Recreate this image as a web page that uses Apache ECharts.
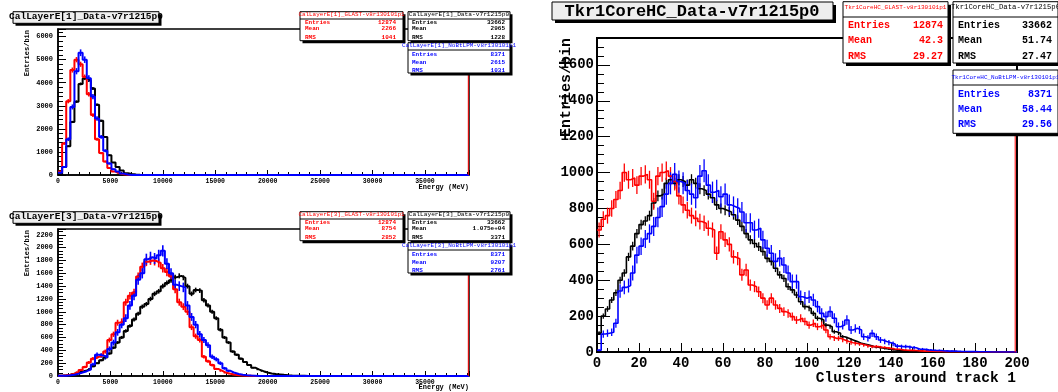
<!DOCTYPE html>
<html>
<head>
<meta charset="utf-8">
<script src="https://cdn.jsdelivr.net/npm/echarts@6/dist/echarts.min.js"></script>
<style>
  html, body { margin: 0; padding: 0; background: #fff; }
  #c { width: 1058px; height: 392px; }
</style>
</head>
<body>
<div id="c"></div>
<script>
// Histogram binning: 100 bins per histogram
const E_BIN = 392;   // MeV per bin (0 .. 39200 MeV)
const C_BIN = 2;     // clusters per bin (0 .. 200)
const E_MAX = 39200;
const C_MAX = 200;

// CalLayerE[1] (entries per 392 MeV bin)
const cal1Data = [
  30, 350, 1250, 2300, 3180, 3950, 4180, 4100, 3750, 3050,
  2350, 1650, 860, 540, 350, 190, 80, 40, 20, 10,
  5, 0, 0, 0, 0, 0, 0, 0, 0, 0,
  0, 0, 0, 0, 0, 0, 0, 0, 0, 0,
  0, 0, 0, 0, 0, 0, 0, 0, 0, 0,
  0, 0, 0, 0, 0, 0, 0, 0, 0, 0,
  0, 0, 0, 0, 0, 0, 0, 0, 0, 0,
  0, 0, 0, 0, 0, 0, 0, 0, 0, 0,
  0, 0, 0, 0, 0, 0, 0, 0, 0, 0,
  0, 0, 0, 0, 0, 0, 0, 0, 0, 0
];
const cal1Glast = [
  150, 1370, 3200, 4550, 5000, 4800, 4250, 3500, 2600, 1550,
  950, 580, 300, 150, 70, 30, 10, 0, 0, 0,
  0, 0, 0, 0, 0, 0, 0, 0, 0, 0,
  0, 0, 0, 0, 0, 0, 0, 0, 0, 0,
  0, 0, 0, 0, 0, 0, 0, 0, 0, 0,
  0, 0, 0, 0, 0, 0, 0, 0, 0, 0,
  0, 0, 0, 0, 0, 0, 0, 0, 0, 0,
  0, 0, 0, 0, 0, 0, 0, 0, 0, 0,
  0, 0, 0, 0, 0, 0, 0, 0, 0, 0,
  0, 0, 0, 0, 0, 0, 0, 0, 0, 0
];
const cal1NoBt = [
  100, 350, 1550, 2950, 4500, 5300, 5000, 4200, 3400, 2450,
  1650, 1050, 500, 250, 150, 60, 20, 0, 0, 0,
  0, 0, 0, 0, 0, 0, 0, 0, 0, 0,
  0, 0, 0, 0, 0, 0, 0, 0, 0, 0,
  0, 0, 0, 0, 0, 0, 0, 0, 0, 0,
  0, 0, 0, 0, 0, 0, 0, 0, 0, 0,
  0, 0, 0, 0, 0, 0, 0, 0, 0, 0,
  0, 0, 0, 0, 0, 0, 0, 0, 0, 0,
  0, 0, 0, 0, 0, 0, 0, 0, 0, 0,
  0, 0, 0, 0, 0, 0, 0, 0, 0, 0
];

// CalLayerE[3] (entries per 392 MeV bin)
const cal3Data = [
  5, 10, 20, 35, 50, 65, 85, 110, 150, 200,
  245, 290, 350, 440, 520, 600, 700, 780, 880, 970,
  1080, 1120, 1200, 1280, 1320, 1400, 1450, 1490, 1540, 1560,
  1530, 1400, 1280, 1340, 1330, 1180, 1100, 1000, 900, 720,
  600, 520, 380, 330, 270, 220, 170, 130, 100, 75,
  55, 40, 30, 25, 18, 12, 8, 5, 3, 2,
  0, 0, 0, 0, 0, 0, 0, 0, 0, 0,
  0, 0, 0, 0, 0, 0, 0, 0, 0, 0,
  0, 0, 0, 0, 0, 0, 0, 0, 0, 0,
  0, 0, 0, 0, 0, 0, 0, 0, 0, 0
];
const cal3Glast = [
  5, 10, 20, 35, 60, 95, 140, 210, 270, 300,
  320, 380, 560, 650, 830, 850, 1150, 1250, 1300, 1550,
  1700, 1780, 1800, 1790, 1760, 1680, 1620, 1550, 1350, 1150,
  1080, 1000, 760, 620, 560, 300, 230, 170, 110, 80,
  50, 35, 20, 12, 8, 5, 3, 0, 0, 0,
  0, 0, 0, 0, 0, 0, 0, 0, 0, 0,
  0, 0, 0, 0, 0, 0, 0, 0, 0, 0,
  0, 0, 0, 0, 0, 0, 0, 0, 0, 0,
  0, 0, 0, 0, 0, 0, 0, 0, 0, 0,
  0, 0, 0, 0, 0, 0, 0, 0, 0, 0
];
const cal3NoBt = [
  3, 5, 10, 20, 35, 55, 75, 100, 180, 330,
  320, 290, 420, 520, 680, 800, 900, 1100, 1250, 1500,
  1600, 1820, 1850, 1830, 1880, 1950, 1750, 1600, 1420, 1400,
  1380, 1100, 920, 800, 650, 560, 480, 300, 260, 200,
  120, 80, 50, 30, 20, 12, 8, 5, 0, 0,
  0, 0, 0, 0, 0, 0, 0, 0, 0, 0,
  0, 0, 0, 0, 0, 0, 0, 0, 0, 0,
  0, 0, 0, 0, 0, 0, 0, 0, 0, 0,
  0, 0, 0, 0, 0, 0, 0, 0, 0, 0,
  0, 0, 0, 0, 0, 0, 0, 0, 0, 0
];

// Tkr1CoreHC (entries per 2-cluster bin)
const tkrData = [
  105, 200, 240, 290, 330, 400, 440, 530, 590, 660,
  710, 730, 760, 830, 870, 880, 940, 960, 940, 960,
  950, 930, 960, 940, 910, 900, 880, 860, 820, 800,
  790, 780, 765, 735, 700, 660, 625, 605, 587, 560,
  522, 505, 467, 430, 410, 364, 346, 318, 280, 253,
  243, 215, 188, 178, 150, 141, 113, 104, 85, 76,
  67, 58, 48, 43, 37, 30, 26, 22, 18, 15,
  12, 10, 8, 7, 6, 5, 4, 3, 3, 2,
  2, 1, 1, 1, 1, 0, 0, 0, 0, 0,
  0, 0, 0, 0, 0, 0, 0, 0, 0, 0
];
const tkrGlast = [
  680, 740, 760, 800, 850, 900, 1000, 960, 970, 930,
  980, 990, 960, 840, 980, 1000, 1010, 980, 950, 870,
  820, 790, 760, 745, 727, 717, 690, 680, 550, 670,
  625, 600, 530, 520, 430, 457, 373, 364, 336, 300,
  262, 300, 262, 243, 225, 215, 197, 178, 188, 170,
  150, 160, 141, 150, 123, 85, 76, 76, 67, 58,
  52, 48, 45, 39, 33, 30, 30, 26, 24, 20,
  17, 15, 12, 10, 9, 8, 6, 5, 5, 4,
  3, 3, 2, 2, 2, 1, 1, 1, 1, 0,
  0, 0, 0, 0, 0, 0, 0, 0, 0, 0
];
const tkrNoBt = [
  10, 100, 105, 110, 160, 340, 360, 370, 440, 540,
  590, 630, 660, 700, 750, 810, 880, 940, 990, 950,
  940, 900, 880, 860, 980, 1010, 930, 890, 900, 865,
  880, 820, 810, 800, 780, 720, 720, 680, 690, 625,
  578, 550, 505, 522, 485, 440, 392, 392, 308, 300,
  308, 290, 253, 215, 197, 225, 188, 141, 150, 178,
  123, 132, 123, 85, 76, 104, 85, 67, 58, 52,
  45, 33, 30, 30, 26, 24, 15, 15, 12, 10,
  8, 8, 6, 5, 5, 4, 3, 3, 2, 2,
  1, 1, 1, 0, 0, 0, 0, 0, 0, 0
];

// Statistics box contents
const statLabels = ['Entries', 'Mean', 'RMS'];
const cal1DataStats  = ['33662', '2965', '1228'];
const cal1GlastStats = ['12874', '2266', '1041'];
const cal1NoBtStats  = ['8371', '2615', '1031'];
const cal3DataStats  = ['33662', '1.075e+04', '3371'];
const cal3GlastStats = ['12874', '8754', '2852'];
const cal3NoBtStats  = ['8371', '9207', '2761'];
const tkrDataStats   = ['33662', '51.74', '27.47'];
const tkrGlastStats  = ['12874', '42.3', '29.27'];
const tkrNoBtStats   = ['8371', '58.44', '29.56'];

const FONT = '"Liberation Mono", "DejaVu Sans Mono", monospace';
const RED = '#ff0000', BLUE = '#0000ff', BLACK = '#000000';

// Step outline of a histogram: one point per low bin edge plus the upper edge
function stepData(vals, w) {
  const d = vals.map((v, i) => [i * w, v]);
  d.push([vals.length * w, vals[vals.length - 1]]);
  return d;
}
// Bin centres with statistical error of the (scaled) contents
function errData(vals, w, entries) {
  const scale = 33662 / entries;
  return vals.map((v, i) => [(i + 0.5) * w, v, Math.sqrt(v * scale)]).filter(d => d[1] > 0);
}

function histSeries(g, vals, w, color, entries, lw) {
  return [
    {
      type: 'line', xAxisIndex: g, yAxisIndex: g, data: stepData(vals, w),
      step: 'end', symbol: 'none', silent: true, clip: true, animation: false,
      lineStyle: { color: color, width: lw }
    },
    {
      type: 'custom', xAxisIndex: g, yAxisIndex: g, data: errData(vals, w, entries),
      silent: true, clip: true, animation: false, encode: { x: 0, y: 1 },
      renderItem: function (params, api) {
        const x = api.value(0), v = api.value(1), e = api.value(2);
        const p1 = api.coord([x, v - e]);
        const p2 = api.coord([x, v + e]);
        return {
          type: 'line',
          shape: { x1: p1[0], y1: p1[1], x2: p2[0], y2: p2[1] },
          style: { stroke: color, lineWidth: lw * 0.8 }
        };
      }
    }
  ];
}

function axisCfg(g, max, interval, o) {
  return {
    gridIndex: g, type: 'value', min: 0, max: max, interval: interval,
    axisLine: { show: true, onZero: false, lineStyle: { color: '#000', width: o.lw } },
    axisTick: { show: true, inside: true, length: o.tick, lineStyle: { color: '#000', width: 1 } },
    minorTick: { show: true, splitNumber: o.minor, length: o.minorLen, lineStyle: { color: '#000', width: 1 } },
    axisLabel: {
      fontSize: o.fs, fontWeight: 'bold', fontFamily: FONT, color: '#000', margin: o.margin,
      showMaxLabel: !!o.showMax, formatter: v => String(v)
    },
    splitLine: { show: false }, minorSplitLine: { show: false }
  };
}

// Shadowed pave (ROOT style box)
function pave(x, y, w, h, s, fill) {
  return [
    { type: 'rect', z: 100, shape: { x: x + s, y: y + s, width: w, height: h }, style: { fill: '#000' }, silent: true },
    { type: 'rect', z: 100, shape: { x: x, y: y, width: w, height: h }, style: { fill: fill, stroke: '#000', lineWidth: 1 }, silent: true }
  ];
}
function text(x, y, str, font, color, align, extra) {
  return Object.assign({
    type: 'text', z: 101, x: x, y: y, silent: true,
    style: { text: str, font: font, fill: color, align: align, verticalAlign: 'middle' }
  }, extra || {});
}
function statBox(b) {
  const els = pave(b.x, b.y, b.w, b.h, b.s, '#ffffff');
  els.push(text(b.x + b.w / 2, b.y + b.ty, b.title, `${b.tsize}px ${FONT}`, b.color, 'center'));
  els.push({ type: 'line', z: 101, silent: true,
    shape: { x1: b.x, y1: b.y + b.sy, x2: b.x + b.w, y2: b.y + b.sy },
    style: { stroke: '#000', lineWidth: 1 } });
  statLabels.forEach((lab, i) => {
    els.push(text(b.x + b.lp, b.y + b.ry[i], lab, `bold ${b.rsize}px ${FONT}`, b.color, 'left'));
    els.push(text(b.x + b.w - b.rp, b.y + b.ry[i], b.stats[i], `bold ${b.rsize}px ${FONT}`, b.color, 'right'));
  });
  return els;
}
function vline(x, y1, y2, color, lw) {
  return { type: 'line', z: 99, silent: true, shape: { x1: x, y1: y1, x2: x, y2: y2 }, style: { stroke: color, lineWidth: lw } };
}

// Axis styles
const leftAx = { lw: 1.5, tick: 5, minor: 5, minorLen: 3, fs: 6.5, margin: 3 };
const leftAy = { lw: 1.5, tick: 8, minor: 5, minorLen: 5, fs: 7, margin: 5 };
const leftAy3 = { lw: 1.5, tick: 8, minor: 4, minorLen: 5, fs: 7, margin: 5 };
const rightAx = { lw: 2, tick: 9, minor: 4, minorLen: 4, fs: 14, margin: 4, showMax: true };
const rightAy = { lw: 2, tick: 13, minor: 4, minorLen: 7, fs: 14, margin: 3 };

const grids = [
  { left: 58, top: 29, width: 411, height: 146 },
  { left: 58, top: 229, width: 411, height: 147 },
  { left: 597, top: 38, width: 420, height: 314 }
].map((g, i) => Object.assign(g, {
  show: true, borderColor: '#000', borderWidth: i === 2 ? 2 : 1.5,
  backgroundColor: 'transparent', containLabel: false, outerBoundsMode: 'none'
}));

const series = [].concat(
  histSeries(0, cal1Data, E_BIN, BLACK, 33662, 2),
  histSeries(0, cal1Glast, E_BIN, RED, 12874, 2),
  histSeries(0, cal1NoBt, E_BIN, BLUE, 8371, 2),
  histSeries(1, cal3Data, E_BIN, BLACK, 33662, 2),
  histSeries(1, cal3Glast, E_BIN, RED, 12874, 2),
  histSeries(1, cal3NoBt, E_BIN, BLUE, 8371, 2),
  histSeries(2, tkrData, C_BIN, BLACK, 33662, 1.6),
  histSeries(2, tkrGlast, C_BIN, RED, 12874, 1.6),
  histSeries(2, tkrNoBt, C_BIN, BLUE, 8371, 1.6)
);

// Boxes, titles and axis titles
let g = [];
// frame edges redrawn in red next to the right border
g.push(vline(468.3, 75, 175, RED, 1));
g.push(vline(468.3, 275, 376, RED, 1));
g.push(vline(1015.2, 136, 352, RED, 1));

[0, 200].forEach((dy, k) => {
  const layer = k === 0 ? '1' : '3';
  const st = k === 0 ? [cal1DataStats, cal1GlastStats, cal1NoBtStats] : [cal3DataStats, cal3GlastStats, cal3NoBtStats];
  // histogram title
  g = g.concat(pave(13, 11.7 + dy, 146, 11.6, 2.5, '#eeeeee'));
  g.push(text(86, 16.2 + dy, `CalLayerE[${layer}]_Data-v7r1215p0`, `bold 9.5px ${FONT}`, '#000', 'center'));
  // axis titles
  g.push(text(469, 187.5 + dy, 'Energy (MeV)', `bold 7px ${FONT}`, '#000', 'right'));
  g.push(text(27.5, 30 + dy, 'Entries/bin', `bold 7px ${FONT}`, '#000', 'right', { rotation: Math.PI / 2 }));
  // statistics boxes
  g = g.concat(statBox({ x: 408, y: 11.7 + dy, w: 102, h: 29, s: 2.5, color: BLACK,
    title: `CalLayerE[${layer}]_Data-v7r1215p0`, tsize: 6.2, rsize: 6, ty: 2.8, sy: 7.3,
    ry: [10.7, 17, 25.5], lp: 4, rp: 5, stats: st[0] }));
  g = g.concat(statBox({ x: 408, y: 42.7 + dy, w: 102, h: 30.3, s: 2.5, color: BLUE,
    title: `CalLayerE[${layer}]_NoBtLPM-v8r130101p1`, tsize: 5.95, rsize: 6, ty: 3, sy: 7.3,
    ry: [11.3, 19.5, 27.3], lp: 4, rp: 5, stats: st[2] }));
  g = g.concat(statBox({ x: 300, y: 11.7 + dy, w: 103, h: 29, s: 2.5, color: RED,
    title: `CalLayerE[${layer}]_GLAST-v8r130101p1`, tsize: 5.9, rsize: 6, ty: 2.8, sy: 7.3,
    ry: [10.7, 17, 25.5], lp: 5, rp: 7, stats: st[1] }));
});

// Right panel
g = g.concat(pave(552, 2, 281, 18, 3, '#eeeeee'));
g.push(text(692, 11.5, 'Tkr1CoreHC_Data-v7r1215p0', `bold 17px ${FONT}`, '#000', 'center'));
g.push(text(1016, 378, 'Clusters around track 1', `bold 14.5px ${FONT}`, '#000', 'right'));
g.push(text(566, 38, 'Entries/bin', `bold 15px ${FONT}`, '#000', 'right', { rotation: Math.PI / 2 }));
g = g.concat(statBox({ x: 953, y: 1.7, w: 105, h: 61.3, s: 3, color: BLACK,
  title: 'Tkr1CoreHC_Data-v7r1215p0', tsize: 7.27, rsize: 10, ty: 5.3, sy: 15.3,
  ry: [23.3, 38.5, 54.5], lp: 5, rp: 6, stats: tkrDataStats }));
g = g.concat(statBox({ x: 953, y: 70, w: 105, h: 63.3, s: 3, color: BLUE,
  title: 'Tkr1CoreHC_NoBtLPM-v8r130101p1', tsize: 6, rsize: 10, ty: 7.3, sy: 15,
  ry: [24, 39, 54.3], lp: 5, rp: 6, stats: tkrNoBtStats }));
g = g.concat(statBox({ x: 843, y: 1.7, w: 105, h: 61.3, s: 3, color: RED,
  title: 'Tkr1CoreHC_GLAST-v8r130101p1', tsize: 6.07, rsize: 10, ty: 5.3, sy: 15.3,
  ry: [23.3, 38.5, 54.5], lp: 5, rp: 5, stats: tkrGlastStats }));

const option = {
  animation: false,
  backgroundColor: '#ffffff',
  grid: grids,
  xAxis: [
    axisCfg(0, E_MAX, 5000, leftAx),
    axisCfg(1, E_MAX, 5000, leftAx),
    axisCfg(2, C_MAX, 20, rightAx)
  ],
  yAxis: [
    axisCfg(0, 6330, 1000, leftAy),
    axisCfg(1, 2290, 200, leftAy3),
    axisCfg(2, 1750, 200, rightAy)
  ],
  series: series,
  graphic: { elements: g }
};

const chart = echarts.init(document.getElementById('c'), null, { renderer: 'canvas', width: 1058, height: 392 });
chart.setOption(option);
</script>
</body>
</html>
